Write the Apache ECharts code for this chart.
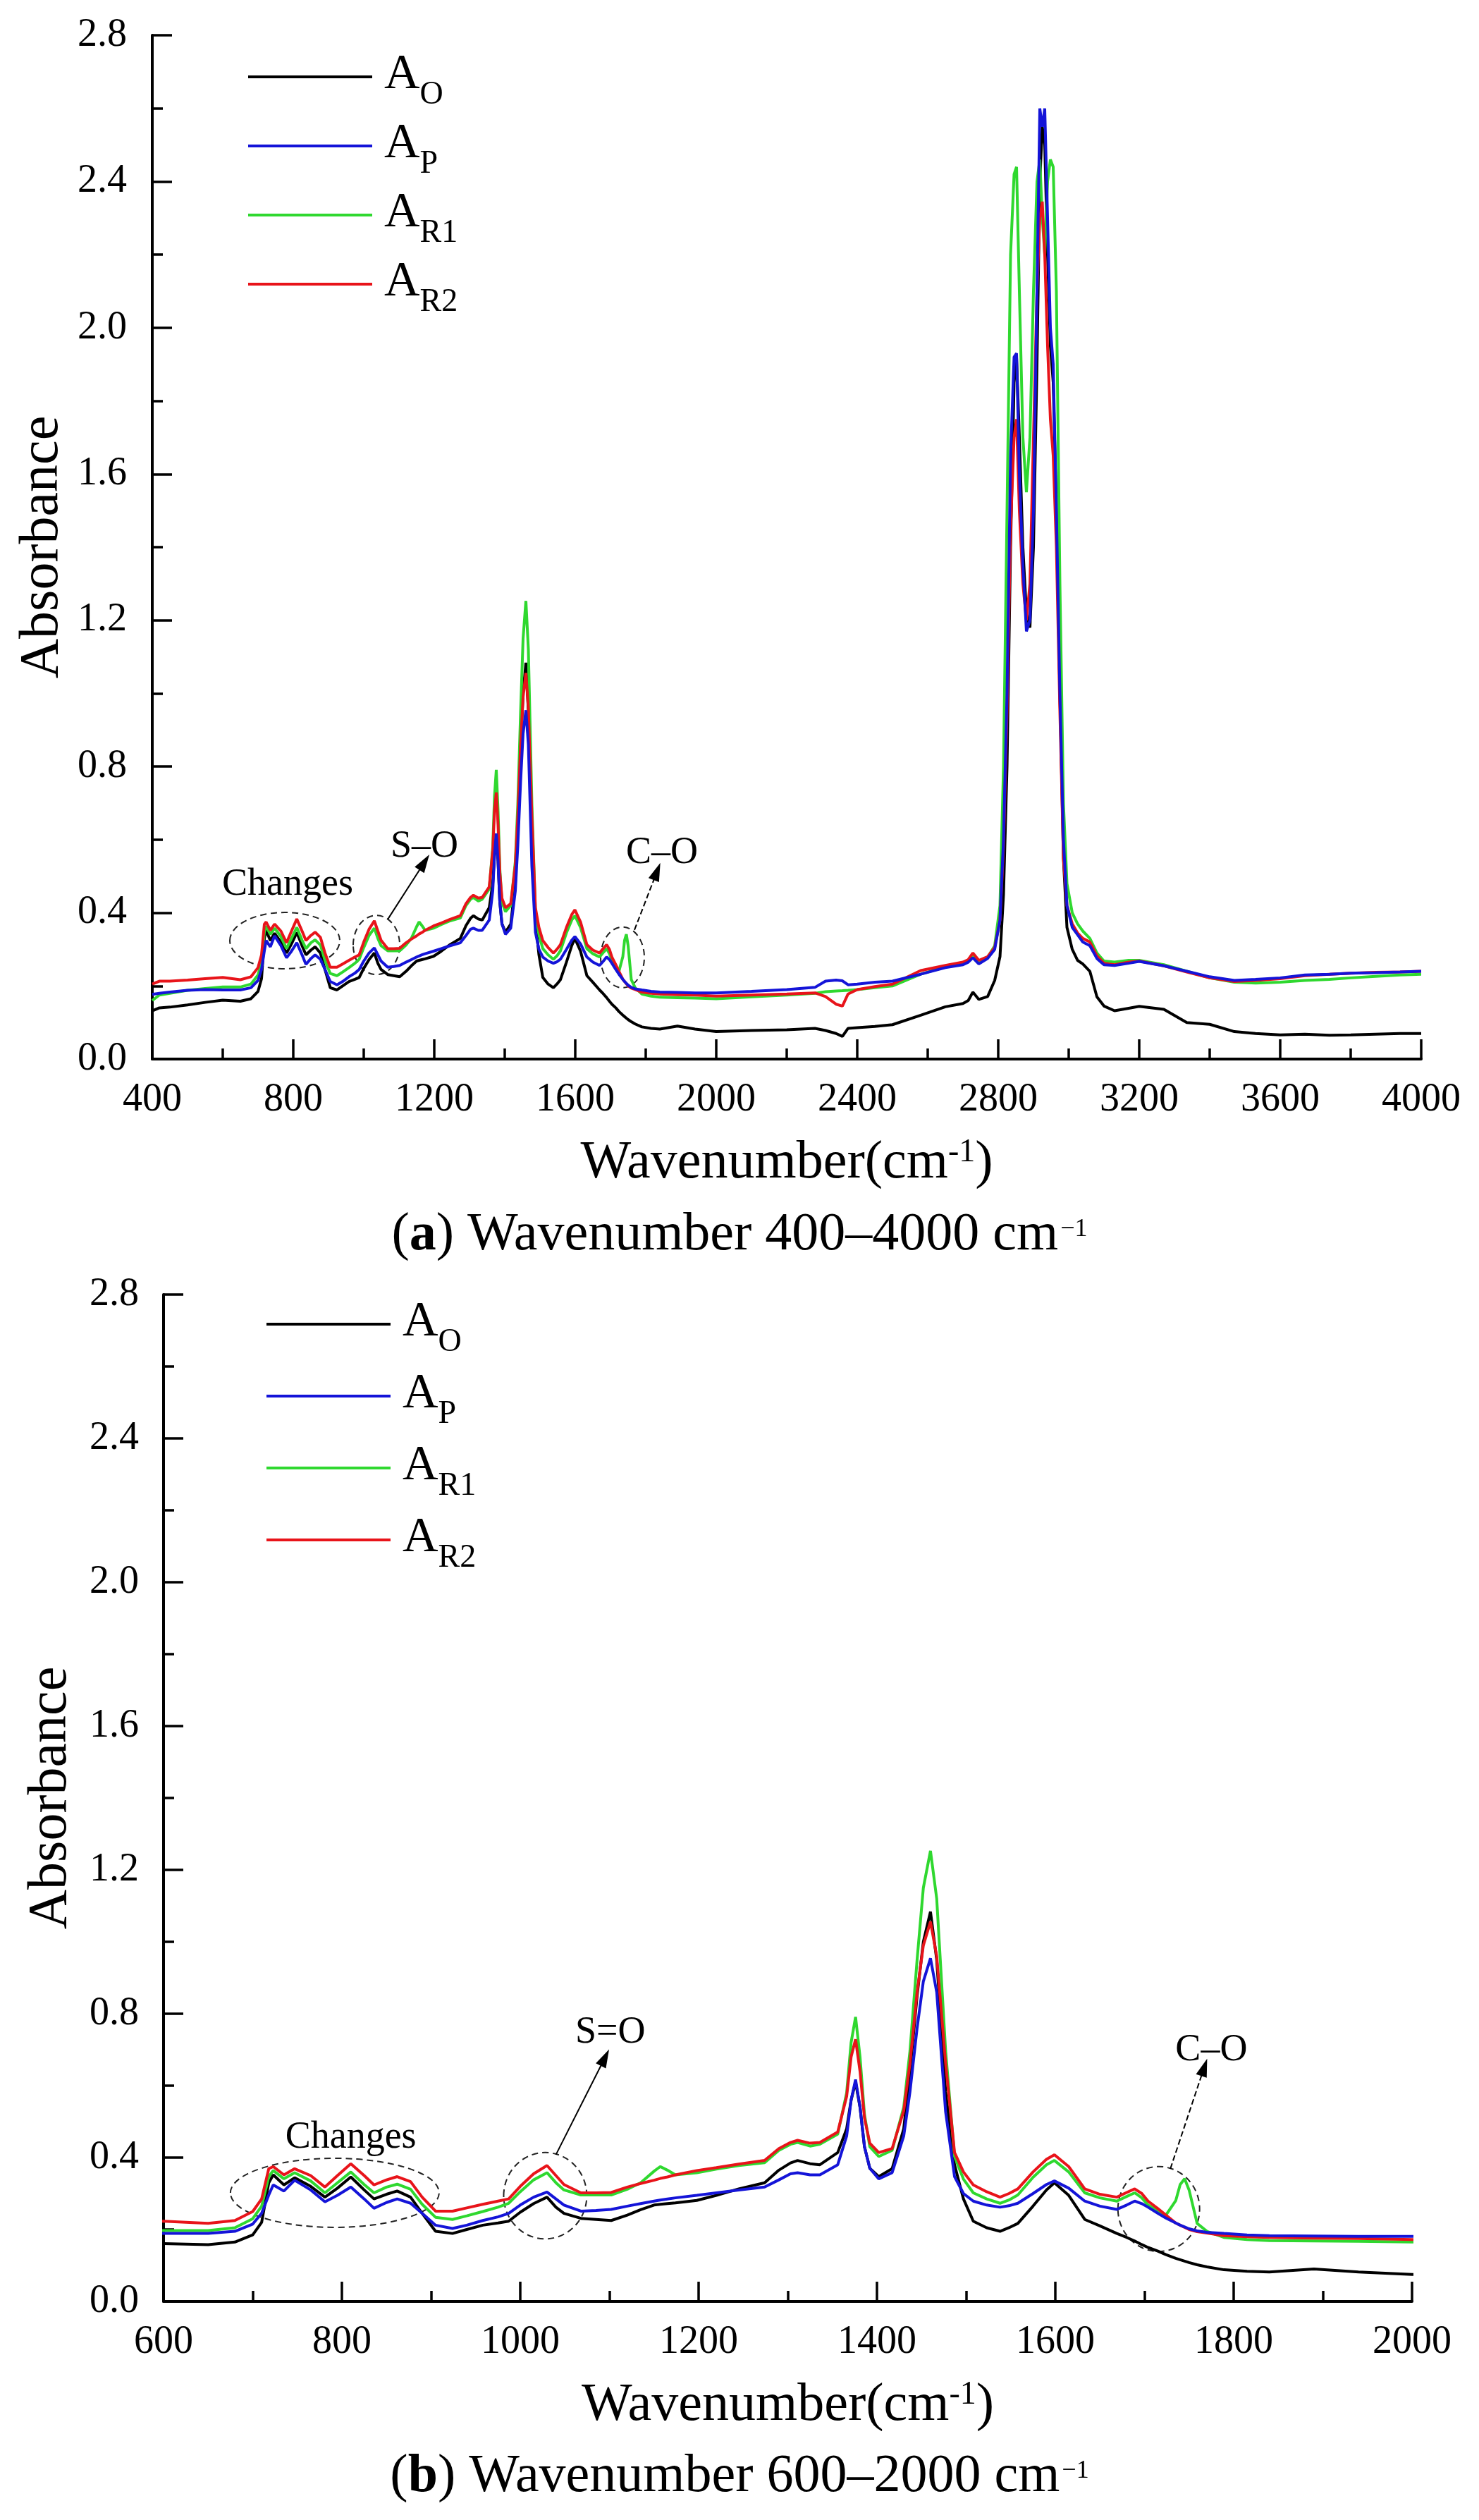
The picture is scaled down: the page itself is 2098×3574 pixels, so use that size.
<!DOCTYPE html>
<html>
<head>
<meta charset="utf-8">
<title>FTIR absorbance spectra</title>
<script src="https://cdn.jsdelivr.net/npm/echarts@6/dist/echarts.min.js"></script>
<style>
  html, body { margin: 0; padding: 0; background: #fff; }
  #chart { width: 2098px; height: 3574px; }
</style>
</head>
<body>
<div id="chart"></div>
<script>
var FONT = '"Liberation Serif", "Times New Roman", serif';

// wavenumber grid (cm-1)
var wavenumber = [
    400, 420, 450, 500, 550, 600, 650, 680, 700, 710,
    718, 723, 735, 747, 765, 781, 795, 810, 825, 836,
    850, 862, 877, 890, 905, 924, 940, 958, 975, 987,
    1000, 1015, 1030, 1040, 1049, 1068, 1085, 1102, 1120, 1135,
    1150, 1157, 1165, 1174, 1198, 1220, 1245, 1274, 1290, 1303,
    1311, 1325, 1336, 1356, 1366, 1371, 1376, 1381, 1386, 1392,
    1402, 1417, 1430, 1437, 1445, 1452, 1460, 1467, 1477, 1487,
    1497, 1508, 1523, 1538, 1548, 1558, 1575, 1590, 1599, 1615,
    1633, 1650, 1669, 1680, 1689, 1697, 1704, 1715, 1724, 1735,
    1740, 1745, 1750, 1759, 1770, 1789, 1815, 1840, 1890, 1940,
    2000, 2100, 2200, 2280, 2310, 2340, 2358, 2374, 2400, 2450,
    2500, 2580, 2650, 2700, 2715, 2728, 2745, 2770, 2790, 2805,
    2815, 2825, 2835, 2845, 2852, 2860, 2870, 2880, 2890, 2900,
    2910, 2918, 2925, 2932, 2940, 2948, 2956, 2965, 2975, 2985,
    2995, 3010, 3025, 3040, 3060, 3080, 3100, 3130, 3170, 3200,
    3270, 3335, 3400, 3470, 3530, 3600, 3670, 3740, 3800, 3870,
    3940, 4000
];

var absO = [
    0.132, 0.140, 0.142, 0.148, 0.155, 0.161, 0.158, 0.165, 0.185, 0.220,
    0.330, 0.352, 0.324, 0.344, 0.320, 0.290, 0.315, 0.346, 0.310, 0.285,
    0.298, 0.307, 0.290, 0.245, 0.195, 0.189, 0.200, 0.212, 0.218, 0.223,
    0.248, 0.272, 0.290, 0.262, 0.245, 0.231, 0.228, 0.225, 0.240, 0.255,
    0.268, 0.270, 0.272, 0.274, 0.281, 0.295, 0.313, 0.330, 0.365, 0.385,
    0.392, 0.383, 0.380, 0.414, 0.480, 0.560, 0.610, 0.540, 0.430, 0.370,
    0.347, 0.369, 0.480, 0.639, 0.850, 1.000, 1.084, 0.950, 0.583, 0.380,
    0.285, 0.223, 0.205, 0.195, 0.205, 0.217, 0.265, 0.310, 0.330, 0.295,
    0.228, 0.210, 0.189, 0.178, 0.168, 0.158, 0.150, 0.140, 0.130, 0.120,
    0.116, 0.112, 0.108, 0.102, 0.096, 0.088, 0.084, 0.082, 0.090, 0.082,
    0.075, 0.078, 0.080, 0.084, 0.078, 0.070, 0.062, 0.084, 0.086, 0.089,
    0.094, 0.120, 0.143, 0.152, 0.160, 0.183, 0.163, 0.171, 0.215, 0.280,
    0.450, 0.800, 1.400, 1.850, 1.920, 1.700, 1.400, 1.220, 1.180, 1.400,
    1.900, 2.400, 2.550, 2.500, 2.200, 1.950, 1.850, 1.500, 1.000, 0.550,
    0.360, 0.300, 0.270, 0.260, 0.240, 0.170, 0.145, 0.132, 0.139, 0.144,
    0.136, 0.100, 0.095, 0.075, 0.070, 0.066, 0.068, 0.065, 0.066, 0.068,
    0.070, 0.070
];

var absP = [
    0.177, 0.180, 0.183, 0.188, 0.190, 0.189, 0.189, 0.195, 0.215, 0.245,
    0.296, 0.324, 0.307, 0.337, 0.310, 0.277, 0.295, 0.318, 0.285, 0.259,
    0.275, 0.285, 0.273, 0.245, 0.212, 0.203, 0.212, 0.225, 0.235, 0.245,
    0.268, 0.290, 0.304, 0.285, 0.268, 0.251, 0.253, 0.256, 0.265, 0.272,
    0.279, 0.282, 0.285, 0.288, 0.295, 0.302, 0.310, 0.318, 0.338, 0.355,
    0.358, 0.352, 0.352, 0.380, 0.460, 0.560, 0.617, 0.540, 0.430, 0.370,
    0.341, 0.358, 0.460, 0.583, 0.760, 0.890, 0.954, 0.860, 0.527, 0.347,
    0.300, 0.279, 0.268, 0.262, 0.266, 0.273, 0.300, 0.325, 0.335, 0.315,
    0.279, 0.265, 0.256, 0.268, 0.279, 0.272, 0.262, 0.245, 0.232, 0.218,
    0.212, 0.207, 0.202, 0.196, 0.192, 0.189, 0.185, 0.183, 0.182, 0.181,
    0.181, 0.185, 0.190, 0.196, 0.213, 0.216, 0.214, 0.203, 0.205, 0.210,
    0.213, 0.232, 0.250, 0.258, 0.265, 0.277, 0.260, 0.275, 0.300, 0.380,
    0.600, 1.000, 1.650, 1.920, 1.930, 1.600, 1.350, 1.170, 1.200, 1.500,
    2.100, 2.600, 2.550, 2.600, 2.300, 2.000, 1.900, 1.500, 1.000, 0.600,
    0.420, 0.360, 0.340, 0.320, 0.310, 0.275, 0.258, 0.256, 0.262, 0.267,
    0.255, 0.240, 0.225, 0.215, 0.218, 0.222, 0.230, 0.232, 0.235, 0.236,
    0.238, 0.240
];

var absR1 = [
    0.160, 0.175, 0.180, 0.188, 0.193, 0.197, 0.197, 0.205, 0.230, 0.265,
    0.347, 0.364, 0.341, 0.358, 0.335, 0.302, 0.330, 0.360, 0.325, 0.302,
    0.318, 0.326, 0.312, 0.270, 0.234, 0.228, 0.238, 0.250, 0.262, 0.273,
    0.305, 0.338, 0.358, 0.330, 0.310, 0.296, 0.296, 0.296, 0.312, 0.330,
    0.362, 0.375, 0.365, 0.352, 0.358, 0.368, 0.378, 0.386, 0.420, 0.437,
    0.442, 0.432, 0.437, 0.465, 0.580, 0.720, 0.791, 0.680, 0.520, 0.430,
    0.403, 0.420, 0.540, 0.696, 0.950, 1.150, 1.253, 1.120, 0.696, 0.403,
    0.340, 0.302, 0.285, 0.273, 0.282, 0.296, 0.345, 0.380, 0.392, 0.360,
    0.302, 0.288, 0.279, 0.292, 0.302, 0.288, 0.268, 0.252, 0.240, 0.280,
    0.325, 0.341, 0.310, 0.217, 0.195, 0.178, 0.172, 0.169, 0.168, 0.167,
    0.165, 0.170, 0.175, 0.180, 0.184, 0.186, 0.187, 0.188, 0.190, 0.195,
    0.200, 0.232, 0.252, 0.262, 0.268, 0.285, 0.265, 0.278, 0.310, 0.420,
    0.800, 1.500, 2.200, 2.420, 2.440, 2.100, 1.700, 1.550, 1.700, 2.100,
    2.400, 2.460, 2.300, 2.200, 2.400, 2.460, 2.440, 2.100, 1.300, 0.700,
    0.480, 0.400, 0.370, 0.350, 0.330, 0.290, 0.268, 0.265, 0.270, 0.270,
    0.258, 0.240, 0.222, 0.210, 0.208, 0.210, 0.215, 0.218, 0.222, 0.226,
    0.230, 0.232
];

var absR2 = [
    0.205, 0.213, 0.213, 0.216, 0.220, 0.223, 0.217, 0.225, 0.250, 0.285,
    0.369, 0.375, 0.352, 0.369, 0.350, 0.318, 0.350, 0.383, 0.350, 0.324,
    0.338, 0.347, 0.333, 0.290, 0.251, 0.251, 0.260, 0.270, 0.279, 0.285,
    0.320, 0.355, 0.378, 0.350, 0.325, 0.302, 0.302, 0.303, 0.318, 0.328,
    0.337, 0.342, 0.346, 0.352, 0.364, 0.372, 0.382, 0.392, 0.425, 0.442,
    0.448, 0.440, 0.442, 0.471, 0.570, 0.680, 0.729, 0.640, 0.510, 0.440,
    0.414, 0.425, 0.530, 0.662, 0.860, 0.990, 1.056, 0.960, 0.662, 0.414,
    0.360, 0.324, 0.305, 0.290, 0.300, 0.313, 0.360, 0.395, 0.408, 0.375,
    0.313, 0.298, 0.290, 0.303, 0.313, 0.300, 0.279, 0.258, 0.240, 0.218,
    0.212, 0.206, 0.200, 0.194, 0.190, 0.183, 0.180, 0.178, 0.176, 0.175,
    0.172, 0.175, 0.178, 0.181, 0.171, 0.150, 0.145, 0.178, 0.190, 0.198,
    0.205, 0.242, 0.256, 0.265, 0.272, 0.290, 0.270, 0.280, 0.305, 0.380,
    0.580, 0.950, 1.450, 1.700, 1.750, 1.500, 1.300, 1.200, 1.300, 1.700,
    2.100, 2.300, 2.345, 2.200, 1.950, 1.750, 1.650, 1.400, 0.950, 0.550,
    0.420, 0.370, 0.345, 0.330, 0.320, 0.282, 0.262, 0.258, 0.265, 0.268,
    0.255, 0.238, 0.222, 0.212, 0.215, 0.220, 0.228, 0.232, 0.235, 0.237,
    0.238, 0.240
];

var seriesNames = ['A_O', 'A_P', 'A_R1', 'A_R2'];
var seriesValues = [absO, absP, absR1, absR2];
var seriesColors = ['#000000', '#1414d8', '#2fd82f', '#e8141a'];
// drawing order (black first, blue last on top)
var drawOrder = [0, 2, 3, 1];

// annotations: ellipse [wn, abs, rx(wn), ry(abs)], label [text, wn, abs], arrow [wn1, abs1, wn2, abs2, style]
var ellipsesA = [[776, 0.324, 156, 0.077], [1036, 0.312, 66, 0.081], [1734, 0.278, 62, 0.083]];
var labelsA = [['Changes', 784, 0.476], ['S–O', 1172, 0.580], ['C–O', 1846, 0.563]];
var arrowsA = [[1068, 0.382, 1172, 0.538, 'solid'], [1768, 0.353, 1832, 0.513, 'dashed']];

var ellipsesB = [[792, 0.302, 117, 0.096], [1028, 0.294, 46.6, 0.12], [1716, 0.257, 45.8, 0.118]];
var labelsB = [['Changes', 810, 0.455], ['S=O', 1101, 0.747], ['C–O', 1775, 0.698]];
var arrowsB = [[1040, 0.408, 1095, 0.678, 'solid'], [1729, 0.369, 1767, 0.651, 'dashed']];

var captions = [
    ['({b|a}) Wavenumber 400–4000 cm{s|−1}', 1752],
    ['({b|b}) Wavenumber 600–2000 cm{s|−1}', 3513]
];

function pairs(values) {
    return wavenumber.map(function (x, i) { return [x, values[i]]; });
}

function xAxisFor(gridIndex, min, max, interval) {
    return {
        type: 'value', gridIndex: gridIndex, min: min, max: max, interval: interval,
        name: '{n|Wavenumber(cm}{s|-1}{n|)}',
        nameLocation: 'middle', nameGap: 110,
        nameTextStyle: {
            fontFamily: FONT, fontSize: 76, color: '#000',
            rich: {
                n: {fontFamily: FONT, fontSize: 76, color: '#000'},
                s: {fontFamily: FONT, fontSize: 46, color: '#000', verticalAlign: 'top'}
            }
        },
        axisLine: {show: true, lineStyle: {color: '#000', width: 4}},
        axisTick: {show: true, inside: true, length: 28, lineStyle: {color: '#000', width: 3.5}},
        minorTick: {show: true, splitNumber: 2, length: 15, lineStyle: {color: '#000', width: 3.5}},
        axisLabel: {
            fontFamily: FONT, fontSize: 56, color: '#000', margin: 30,
            formatter: function (v) { return String(v); }
        },
        splitLine: {show: false}
    };
}

function yAxisFor(gridIndex, nameGap, labelMargin) {
    return {
        type: 'value', gridIndex: gridIndex, min: 0, max: 2.8, interval: 0.4,
        name: 'Absorbance', nameLocation: 'middle', nameGap: nameGap, nameRotate: 90,
        nameTextStyle: {fontFamily: FONT, fontSize: 78, color: '#000'},
        axisLine: {show: true, lineStyle: {color: '#000', width: 4}},
        axisTick: {show: true, inside: true, length: 28, lineStyle: {color: '#000', width: 3.5}},
        minorTick: {show: true, splitNumber: 2, length: 15, lineStyle: {color: '#000', width: 3.5}},
        axisLabel: {
            fontFamily: FONT, fontSize: 56, color: '#000', margin: labelMargin,
            formatter: function (v) { return v.toFixed(1); }
        },
        splitLine: {show: false}
    };
}

function legendFor(left, top, gap) {
    return {
        orient: 'vertical', left: left, top: top, padding: 0, itemGap: gap,
        itemWidth: 176, itemHeight: 4, icon: 'rect', selectedMode: false,
        data: seriesNames,
        formatter: function (name) { return '{a|A}{s|' + name.split('_')[1] + '}'; },
        textStyle: {
            fontFamily: FONT, color: '#000',
            rich: {
                a: {fontFamily: FONT, fontSize: 70, color: '#000', verticalAlign: 'top', padding: [12, 0, 0, 12]},
                s: {fontFamily: FONT, fontSize: 46, color: '#000', verticalAlign: 'top', padding: [52, 0, 0, 0]}
            }
        }
    };
}

function seriesFor(gridIndex, arrows) {
    var list = [];
    drawOrder.forEach(function (k, n) {
        var s = {
            type: 'line', name: seriesNames[k],
            xAxisIndex: gridIndex, yAxisIndex: gridIndex,
            data: pairs(seriesValues[k]),
            showSymbol: false, symbol: 'none', silent: true,
            lineStyle: {color: seriesColors[k], width: 4},
            itemStyle: {color: seriesColors[k]},
            z: 2 + n
        };
        if (n === 0) {
            s.markLine = {
                silent: true, symbol: ['none', 'triangle'], symbolSize: [16, 26],
                label: {show: false},
                lineStyle: {color: '#000', width: 2, type: 'solid'},
                data: arrows.map(function (a) {
                    return [{coord: [a[0], a[1]], lineStyle: {type: a[4]}}, {coord: [a[2], a[3]]}];
                })
            };
        }
        list.push(s);
    });
    return list;
}

var myChart = echarts.init(document.getElementById('chart'), null, {renderer: 'canvas'});

var option = {
    backgroundColor: '#ffffff',
    animation: false,
    grid: [
        {left: 216, top: 50, width: 1800, height: 1452},
        {left: 232, top: 1836, width: 1771, height: 1428}
    ],
    xAxis: [xAxisFor(0, 400, 4000, 400), xAxisFor(1, 600, 2000, 200)],
    yAxis: [yAxisFor(0, 116, 36), yAxisFor(1, 120, 35)],
    legend: [legendFor(352, 72, 12), legendFor(378, 1841, 16)],
    series: seriesFor(0, arrowsA).concat(seriesFor(1, arrowsB))
};
myChart.setOption(option);

// annotations drawn in data coordinates through the axes
function annotations(gridIndex, ellipses, labels) {
    var els = [];
    ellipses.forEach(function (e) {
        var c = myChart.convertToPixel({gridIndex: gridIndex}, [e[0], e[1]]);
        var r = myChart.convertToPixel({gridIndex: gridIndex}, [e[0] + e[2], e[1] + e[3]]);
        els.push({
            type: 'ellipse', silent: true,
            shape: {cx: c[0], cy: c[1], rx: Math.abs(r[0] - c[0]), ry: Math.abs(c[1] - r[1])},
            style: {fill: 'none', stroke: '#222', lineWidth: 2, lineDash: [9, 6]}
        });
    });
    labels.forEach(function (l) {
        var p = myChart.convertToPixel({gridIndex: gridIndex}, [l[1], l[2]]);
        els.push({
            type: 'text', silent: true, x: p[0], y: p[1],
            style: {text: l[0], fontFamily: FONT, fontSize: 54, fill: '#000', align: 'center', verticalAlign: 'middle'}
        });
    });
    return els;
}

var graphics = annotations(0, ellipsesA, labelsA).concat(annotations(1, ellipsesB, labelsB));
captions.forEach(function (c) {
    graphics.push({
        type: 'text', silent: true, x: 1049, y: c[1],
        style: {
            text: c[0], fontFamily: FONT, fontSize: 76, fill: '#000',
            align: 'center', verticalAlign: 'middle',
            rich: {
                b: {fontFamily: FONT, fontSize: 76, fontWeight: 'bold', fill: '#000'},
                s: {fontFamily: FONT, fontSize: 36, fill: '#000', verticalAlign: 'top', padding: [12, 0, 0, 3]}
            }
        }
    });
});
myChart.setOption({graphic: graphics});
</script>
</body>
</html>
